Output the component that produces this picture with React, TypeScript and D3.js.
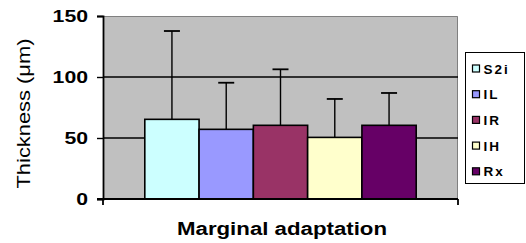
import { useEffect, useRef } from 'react'
import * as d3 from 'd3'

const SERIES = ['S2i', 'IL', 'IR', 'IH', 'Rx']
const MEANS = [65.3, 57.1, 60.4, 50.5, 60.4]
const SD = [72.4, 38.2, 45.9, 31.5, 26.5]
const COLORS = ['#CCFFFF', '#9999FF', '#993366', '#FFFFCC', '#660066']
const Y_TICKS = [0, 50, 100, 150]
const CATEGORY = 'Marginal adaptation'

export default function App() {
  const svgRef = useRef<SVGSVGElement>(null)

  useEffect(() => {
    if (!svgRef.current) return
    const svg = d3.select(svgRef.current)
    svg.selectAll('*').remove()

    const m = { left: 103, top: 16, right: 458, bottom: 199 }
    const font = 'Arial, "Liberation Sans", sans-serif'

    const y = d3.scaleLinear().domain([0, 150]).range([m.bottom, m.top])
    const x = d3.scaleBand().domain([CATEGORY]).range([m.left, m.right])
    const inner = d3.scaleBand().domain(SERIES)
      .range([0, x.bandwidth()]).paddingInner(0).paddingOuter(0.77)

    // plot area
    svg.append('rect')
      .attr('x', m.left).attr('y', m.top)
      .attr('width', m.right - m.left).attr('height', m.bottom - m.top)
      .attr('fill', '#C0C0C0')
    svg.append('path')
      .attr('d', `M${m.left},${m.top + 0.5}H${m.right - 0.5}V${m.bottom}`)
      .attr('fill', 'none').attr('stroke', '#808080').attr('stroke-width', 1)

    // gridlines
    svg.append('g').selectAll('line')
      .data(Y_TICKS.filter(t => t > 0 && t < 150))
      .enter().append('line')
      .attr('x1', m.left).attr('x2', m.right)
      .attr('y1', d => y(d)).attr('y2', d => y(d))
      .attr('stroke', '#000').attr('stroke-width', 1.4)

    // bars
    const x0 = x(CATEGORY) ?? m.left
    svg.append('g').selectAll('rect')
      .data(SERIES)
      .enter().append('rect')
      .attr('x', d => x0 + (inner(d) ?? 0))
      .attr('y', (_, i) => y(MEANS[i]))
      .attr('width', inner.bandwidth())
      .attr('height', (_, i) => m.bottom - y(MEANS[i]))
      .attr('fill', (_, i) => COLORS[i])
      .attr('stroke', '#000').attr('stroke-width', 1.6)

    // error bars
    const eb = svg.append('g').attr('stroke', '#000').attr('stroke-width', 1.4)
    SERIES.forEach((s, i) => {
      const cx = x0 + (inner(s) ?? 0) + inner.bandwidth() / 2
      const top = y(MEANS[i] + SD[i])
      eb.append('line').attr('x1', cx).attr('x2', cx)
        .attr('y1', y(MEANS[i])).attr('y2', top)
      eb.append('line').attr('x1', cx - 8).attr('x2', cx + 8)
        .attr('y1', top).attr('y2', top).attr('stroke-width', 1.8)
    })

    // axes
    const yAxis = svg.append('g')
      .attr('transform', `translate(${m.left},0)`)
      .call(d3.axisLeft(y).tickValues(Y_TICKS).tickSize(6).tickPadding(9))
    yAxis.select('.domain').attr('stroke', '#000').attr('stroke-width', 1.8)
    yAxis.selectAll('line').attr('stroke', '#000').attr('stroke-width', 1.4)
    yAxis.selectAll('text')
      .attr('fill', '#000').attr('font-size', 16.5).attr('font-weight', 'bold')
      .attr('font-family', font)
      .attr('textLength', d => String(d).length * 11.8)
      .attr('lengthAdjust', 'spacingAndGlyphs')

    const bottom = svg.append('g').attr('stroke', '#000').attr('stroke-width', 1.8)
    bottom.append('line').attr('x1', m.left - 6).attr('x2', m.right)
      .attr('y1', m.bottom).attr('y2', m.bottom)
    ;[m.left, m.right].forEach(px => {
      bottom.append('line').attr('x1', px).attr('x2', px)
        .attr('y1', m.bottom).attr('y2', m.bottom + 6)
    })

    // axis titles
    svg.append('text')
      .attr('transform', `translate(30,${(m.top + m.bottom) / 2 + 6}) rotate(-90)`)
      .attr('text-anchor', 'middle')
      .attr('font-family', font).attr('font-size', 17.5).attr('fill', '#000')
      .attr('textLength', 150).attr('lengthAdjust', 'spacingAndGlyphs')
      .text('Thickness (μm)')

    svg.append('text')
      .attr('x', 282).attr('y', 235)
      .attr('text-anchor', 'middle')
      .attr('font-family', font).attr('font-size', 17.5).attr('font-weight', 'bold')
      .attr('fill', '#000')
      .attr('textLength', 210).attr('lengthAdjust', 'spacingAndGlyphs')
      .text(CATEGORY)

    // legend
    const lg = svg.append('g')
    lg.append('rect')
      .attr('x', 465.5).attr('y', 52.5).attr('width', 59).attr('height', 131)
      .attr('fill', '#fff').attr('stroke', '#000').attr('stroke-width', 1)
    SERIES.forEach((s, i) => {
      const cy = 68.5 + i * 25.7
      lg.append('rect')
        .attr('x', 472.5).attr('y', cy - 3.5).attr('width', 7).attr('height', 7)
        .attr('fill', COLORS[i]).attr('stroke', '#000').attr('stroke-width', 1.2)
      lg.append('text')
        .attr('x', 483.5).attr('y', cy + 5)
        .attr('font-family', font).attr('font-size', 13.5).attr('font-weight', 'bold')
        .attr('letter-spacing', 2)
        .attr('fill', '#000')
        .text(s)
    })
  }, [])

  return (
    <svg ref={svgRef} width={526} height={243}
      style={{ position: 'absolute', left: 0, top: 0, background: '#fff' }} />
  )
}
